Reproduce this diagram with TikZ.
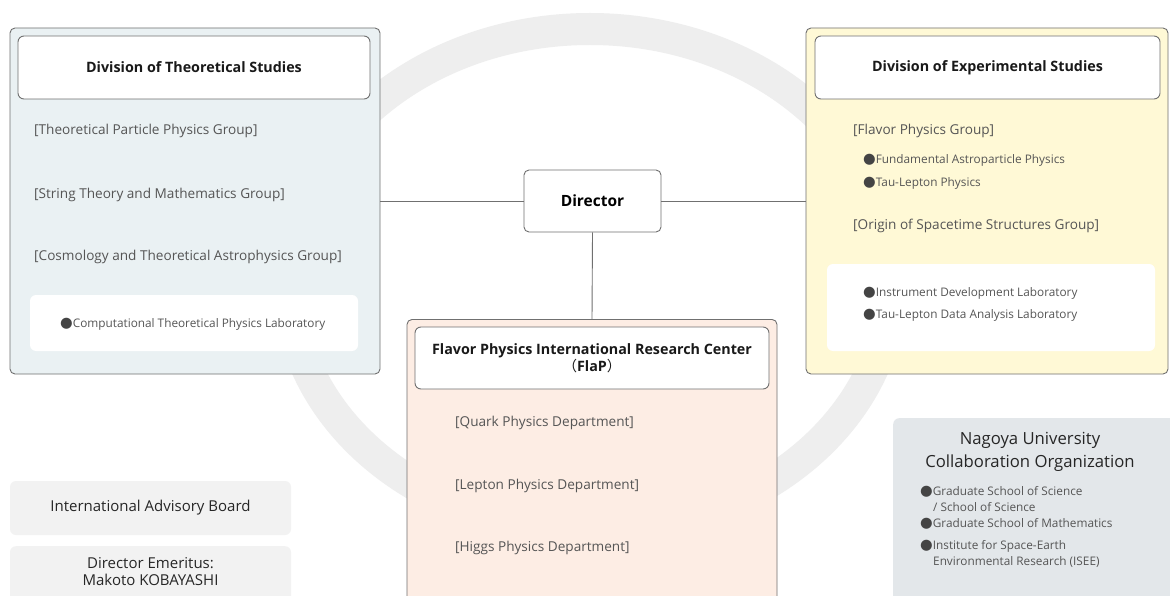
\documentclass[tikz,border=0pt]{standalone}
\usepackage{fontspec}
\setmainfont{Open Sans}
\newfontfamily\dejavu{DejaVu Sans}
\newfontfamily\cjk{Noto Sans CJK JP}
\definecolor{bordergray}{HTML}{707070}
\definecolor{itemgray}{HTML}{555555}
\definecolor{bulletgray}{HTML}{444444}
\definecolor{ringgray}{HTML}{EEEEEE}
\definecolor{theofill}{HTML}{EAF1F3}
\definecolor{expfill}{HTML}{FFF9D6}
\definecolor{flapfill}{HTML}{FDEDE4}
\definecolor{nagoyafill}{HTML}{E3E7EA}
\definecolor{softgray}{HTML}{F2F2F2}
\newcommand{\bul}{{\dejavu\color{bulletgray}\fontsize{14.5}{12}\selectfont ●}}
\tikzset{
  outerbox/.style={draw=bordergray, line width=0.9pt, rounded corners=5pt, inner sep=0pt},
  titlebox/.style={draw=bordergray, fill=white, line width=0.9pt, rounded corners=6pt,
    font=\bfseries\fontsize{14.3}{17}\selectfont, text=black!90, align=center, inner sep=0pt},
  itemtext/.style={anchor=west, text=itemgray, font=\fontsize{13.6}{16}\selectfont, inner sep=0pt},
  subtext/.style={anchor=west, text=itemgray, font=\fontsize{11.8}{14}\selectfont, inner sep=0pt},
  panel/.style={fill=white, rounded corners=6pt, inner sep=0pt},
  softbox/.style={fill=softgray, rounded corners=6pt, inner sep=0pt, text=black!85,
    font=\fontsize{15}{17}\selectfont, align=center},
  link/.style={draw=bordergray, line width=0.9pt}
}
\begin{document}
\begin{tikzpicture}[x=1pt,y=-1pt]
\clip (0,0) rectangle (1170,596);
\fill[white] (0,0) rectangle (1170,596);
% background ring
\draw[ringgray, line width=32pt] (590,280) ellipse [x radius=302pt, y radius=251pt];

% Theoretical division
\node[outerbox, fill=theofill, minimum width=370pt, minimum height=346pt] (theo) at (195,201) {};
\node[titlebox, minimum width=352pt, minimum height=63pt] (theoT) at (194,67.5) {Division of Theoretical Studies};
\node[itemtext] (t1) at (34,131) {[Theoretical Particle Physics Group]};
\node[itemtext] (t2) at (34,195) {[String Theory and Mathematics Group]};
\node[itemtext] (t3) at (34,257) {[Cosmology and Theoretical Astrophysics Group]};
\node[panel, minimum width=328pt, minimum height=56pt] (theoP) at (194,323) {};
\node[subtext] (t4) at (60,324) {\bul Computational Theoretical Physics Laboratory};

% Director
\node[outerbox, fill=white, minimum width=137pt, minimum height=62pt,
  font=\bfseries\fontsize{15.5}{17}\selectfont] (dir) at (592.5,201) {Director};

% Experimental division
\node[outerbox, fill=expfill, minimum width=362pt, minimum height=346pt] (exp) at (987,201) {};
\node[titlebox, minimum width=345pt, minimum height=63pt] (expT) at (987.5,67.5) {Division of Experimental Studies};
\node[itemtext] (e1) at (853,131) {[Flavor Physics Group]};
\node[subtext] (e2) at (863,160) {\bul Fundamental Astroparticle Physics};
\node[subtext] (e3) at (863,183) {\bul Tau-Lepton Physics};
\node[itemtext] (e4) at (853,226) {[Origin of Spacetime Structures Group]};
\node[panel, minimum width=328pt, minimum height=87pt] (expP) at (991,307.5) {};
\node[subtext] (e5) at (863,293) {\bul Instrument Development Laboratory};
\node[subtext] (e6) at (863,315) {\bul Tau-Lepton Data Analysis Laboratory};

% FlaP
\node[outerbox, fill=flapfill, anchor=north, minimum width=370pt, minimum height=320pt] (flap) at (592,319) {};
\node[titlebox, minimum width=354pt, minimum height=62pt] (flapT) at (592,358)
  {Flavor Physics International Research Center\\{\cjk\mdseries （}FlaP{\cjk\mdseries ）}};
\node[itemtext] (f1) at (455,423) {[Quark Physics Department]};
\node[itemtext] (f2) at (455,486) {[Lepton Physics Department]};
\node[itemtext] (f3) at (455,548) {[Higgs Physics Department]};

% connectors
\draw[link] (theo.east |- dir.west) -- (dir.west);
\draw[link] (dir.east) -- (exp.west |- dir.east);
\draw[link] (dir.south) -- (flap.north);

% left bottom boxes
\node[softbox, minimum width=281pt, minimum height=54pt] (iab) at (150.5,508) {International Advisory Board};
\node[softbox, anchor=north, minimum width=281pt, minimum height=70pt] (emer) at (150.5,546) {};
\node[text=black!85, font=\fontsize{15}{17}\selectfont, align=center, inner sep=0pt] (emerT) at (150.5,571.5) {Director Emeritus:\\Makoto KOBAYASHI};

% Nagoya
\node[fill=nagoyafill, rounded corners=6pt, anchor=north west, minimum width=290pt, minimum height=200pt, inner sep=0pt] (nag) at (893,418) {};
\node[text=black!85, font=\fontsize{16.7}{23}\selectfont, align=center, inner sep=0pt] (nagT) at (1030,452) {Nagoya University\\Collaboration Organization};
\node[subtext, align=left, font=\fontsize{11.8}{16.5}\selectfont] (n1) at (920,499) {\bul Graduate School of Science\\\hspace{1.1em}/ School of Science};
\node[subtext] (n2) at (920,524) {\bul Graduate School of Mathematics};
\node[subtext, align=left, font=\fontsize{11.8}{16.5}\selectfont] (n3) at (920,554) {\bul Institute for Space-Earth\\\hspace{1.1em}Environmental Research (ISEE)};
\end{tikzpicture}
\end{document}
